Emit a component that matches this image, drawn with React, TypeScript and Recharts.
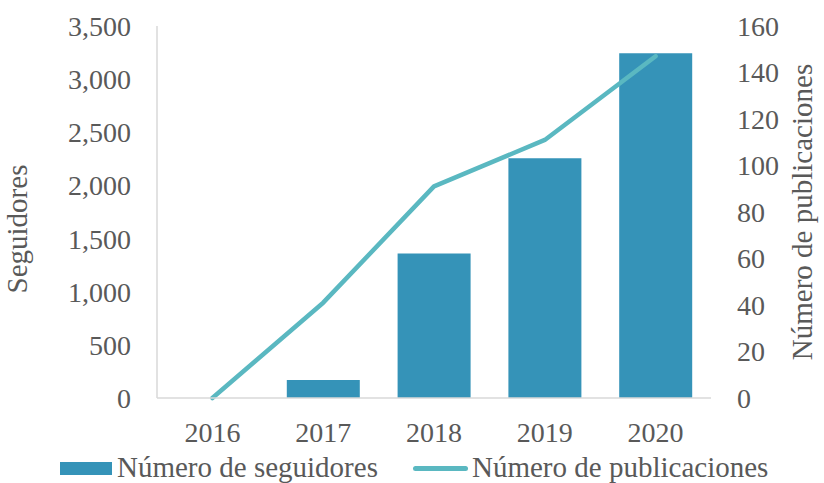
import { ComposedChart, Bar, Line, XAxis, YAxis } from 'recharts';

// values
const years = ['2016', '2017', '2018', '2019', '2020'];
const seguidores = [0, 170, 1360, 2255, 3243];
const publicaciones = [0, 41, 91, 111, 147];
const leftTicks = [0, 500, 1000, 1500, 2000, 2500, 3000, 3500];
const rightTicks = [0, 20, 40, 60, 80, 100, 120, 140, 160];

const BAR_COLOR = '#3593b8';
const LINE_COLOR = '#5ab8c1';
const TEXT_COLOR = '#595959';
const AXIS_COLOR = '#d9d9d9';
const FONT = "'Liberation Serif', 'DejaVu Serif'";

const data = years.map((year, i) => ({
  year,
  seguidores: seguidores[i],
  publicaciones: publicaciones[i],
}));

const tickStyle = { fill: TEXT_COLOR, fontSize: 28, fontFamily: FONT };

export default function App() {
  return (
    <div style={{ position: 'absolute', left: 0, top: 0, width: 824, height: 483, background: '#fff' }}>
      <ComposedChart
        width={824}
        height={483}
        data={data}
        margin={{ top: 26, right: 0, left: 0, bottom: 0 }}
        style={{ fontFamily: FONT }}
      >
        <XAxis
          dataKey="year"
          height={85}
          tick={tickStyle}
          tickLine={false}
          tickSize={6}
          tickMargin={18}
          axisLine={{ stroke: AXIS_COLOR, strokeWidth: 1.5 }}
        />
        <YAxis
          yAxisId="left"
          width={157}
          domain={[0, 3500]}
          ticks={leftTicks}
          interval={0}
          tick={tickStyle}
          tickLine={false}
          tickSize={6}
          tickMargin={20}
          axisLine={{ stroke: AXIS_COLOR, strokeWidth: 1.5 }}
          tickFormatter={(v: number) => v.toLocaleString('en-US')}
          label={{
            content: ({ viewBox }: any) => {
              const cx = viewBox.x + 27;
              const cy = viewBox.y + viewBox.height / 2 + 17;
              return (
                <text
                  x={cx}
                  y={cy}
                  transform={`rotate(-90, ${cx}, ${cy})`}
                  textAnchor="middle"
                  fill={TEXT_COLOR}
                  fontSize={29}
                  style={{ fontFamily: FONT }}
                >
                  Seguidores
                </text>
              );
            },
          }}
        />
        <YAxis
          yAxisId="right"
          orientation="right"
          width={113}
          domain={[0, 160]}
          ticks={rightTicks}
          interval={0}
          tick={tickStyle}
          tickLine={false}
          tickSize={6}
          tickMargin={20}
          axisLine={false}
          label={{
            content: ({ viewBox }: any) => {
              const cx = viewBox.x + 101;
              const cy = viewBox.y + viewBox.height / 2;
              return (
                <text
                  x={cx}
                  y={cy}
                  transform={`rotate(-90, ${cx}, ${cy})`}
                  textAnchor="middle"
                  fill={TEXT_COLOR}
                  fontSize={29}
                  style={{ fontFamily: FONT }}
                >
                  Número de publicaciones
                </text>
              );
            },
          }}
        />
        <Bar
          yAxisId="left"
          dataKey="seguidores"
          name="Número de seguidores"
          fill={BAR_COLOR}
          barSize={73}
          isAnimationActive={false}
        />
        <Line
          yAxisId="right"
          type="linear"
          dataKey="publicaciones"
          name="Número de publicaciones"
          stroke={LINE_COLOR}
          strokeWidth={4.5}
          strokeLinecap="round"
          strokeLinejoin="round"
          dot={false}
          activeDot={false}
          isAnimationActive={false}
        />
      </ComposedChart>
      {/* legend */}
      <div
        style={{
          position: 'absolute',
          top: 451,
          left: 0,
          width: 824,
          height: 33,
          fontFamily: FONT,
          fontSize: 29,
          lineHeight: '33px',
          color: TEXT_COLOR,
          whiteSpace: 'nowrap',
        }}
      >
        <div style={{ position: 'absolute', left: 60, top: 11, width: 52, height: 13, background: BAR_COLOR }} />
        <span style={{ position: 'absolute', left: 117, top: 0 }}>Número de seguidores</span>
        <div
          style={{
            position: 'absolute',
            left: 413,
            top: 15,
            width: 55,
            height: 4.5,
            borderRadius: 3,
            background: LINE_COLOR,
          }}
        />
        <span style={{ position: 'absolute', left: 472, top: 0 }}>Número de publicaciones</span>
      </div>
    </div>
  );
}
